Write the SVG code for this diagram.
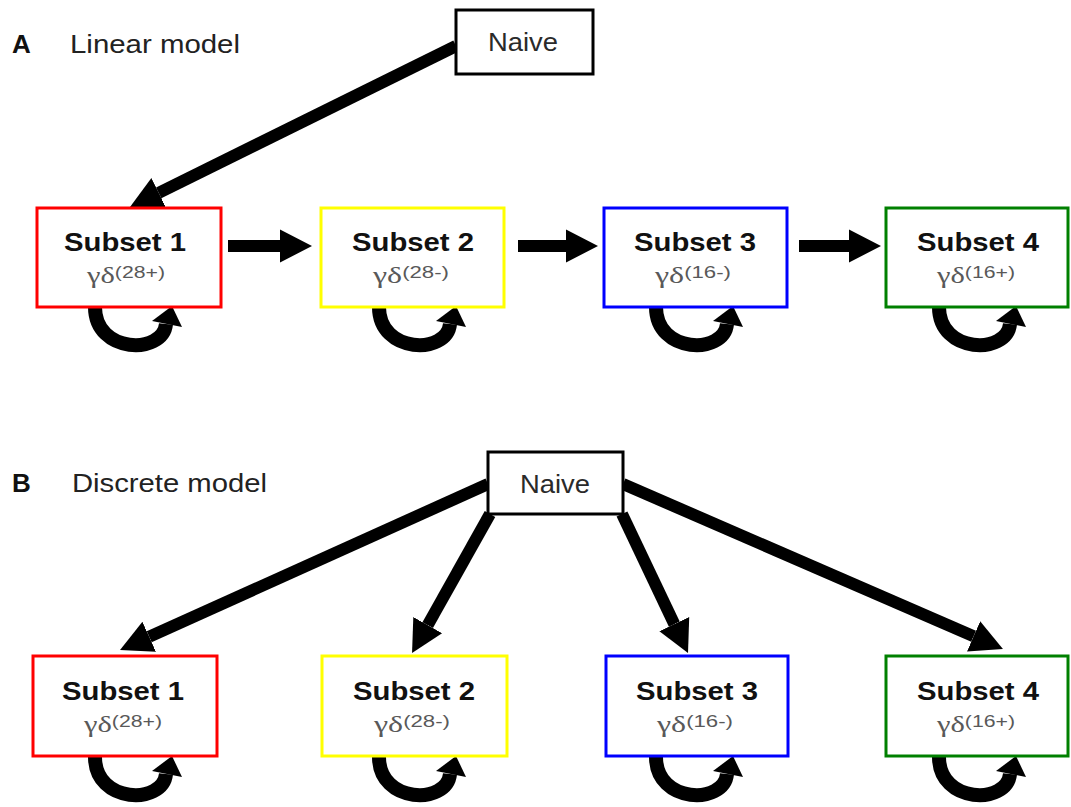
<svg xmlns="http://www.w3.org/2000/svg" width="1071" height="807" viewBox="0 0 1071 807">
  <style>
    .panel { font-family: "Liberation Sans", Arial, sans-serif; font-size: 26px; fill: #222; }
    .panel-letter { font-weight: bold; fill: #111; }
    .box { fill: #fff; stroke-width: 3; }
    .naive { fill: #fff; stroke: #000; stroke-width: 3; }
    .naive-label { font-family: "Liberation Sans", Arial, sans-serif; font-size: 26px; fill: #2a2a2a; text-anchor: middle; }
    .title { font-family: "Liberation Sans", Arial, sans-serif; font-size: 25px; font-weight: bold; fill: #111; text-anchor: middle; }
    .sub { font-family: "Liberation Sans", Arial, sans-serif; font-size: 16px; fill: #595959; text-anchor: middle; }
    .greek { font-family: "Liberation Serif", "Times New Roman", serif; font-size: 23px; }
    .red { stroke: #ff0000; }
    .yellow { stroke: #ffff00; }
    .blue { stroke: #0000ff; }
    .green { stroke: #008000; }
    .edge { stroke: #000; stroke-width: 12; fill: none; marker-end: url(#head); }
    .loop-arc { stroke: #000; stroke-width: 14; fill: none; }
    .loop-head { fill: #000; }
  </style>
  <defs>
    <marker id="head" markerUnits="userSpaceOnUse" viewBox="0 -20 40 40" markerWidth="40" markerHeight="40" refX="0" refY="0" orient="auto">
      <path d="M0,-16.5 L32,0 L0,16.5 z" fill="#000"/>
    </marker>
    <!-- self-renewal loop, origin at its top centre -->
    <g id="loop">
      <path class="loop-arc" d="M-34,0 C-34,47 34,48 37,17"/>
      <polygon class="loop-head" points="43,-1 23,14 53,20"/>
    </g>
  </defs>

  <rect width="1071" height="807" fill="#fff"/>

  <!-- panel headings -->
  <text class="panel panel-letter" x="12" y="53">A</text>
  <text class="panel" x="70" y="53" textLength="170" lengthAdjust="spacingAndGlyphs">Linear model</text>
  <text class="panel panel-letter" x="12" y="492">B</text>
  <text class="panel" x="72" y="492" textLength="195" lengthAdjust="spacingAndGlyphs">Discrete model</text>

  <!-- connectors -->
  <g id="connectors">
    <line class="edge" x1="456" y1="46" x2="158.7" y2="192.8"/>
    <line class="edge" x1="228" y1="246" x2="280" y2="246"/>
    <line class="edge" x1="518" y1="246" x2="566" y2="246"/>
    <line class="edge" x1="799" y1="246" x2="849" y2="246"/>

    <line class="edge" x1="488" y1="484" x2="149.2" y2="636.8"/>
    <line class="edge" x1="490" y1="514" x2="427.7" y2="625.1"/>
    <line class="edge" x1="622" y1="514" x2="674.3" y2="624.1"/>
    <line class="edge" x1="623" y1="484" x2="973.6" y2="636.3"/>

    <use href="#loop" transform="translate(129,307)"/>
    <use href="#loop" transform="translate(413,307)"/>
    <use href="#loop" transform="translate(690,307)"/>
    <use href="#loop" transform="translate(973,307)"/>

    <use href="#loop" transform="translate(129,757)"/>
    <use href="#loop" transform="translate(413,757)"/>
    <use href="#loop" transform="translate(690,757)"/>
    <use href="#loop" transform="translate(973,757)"/>
  </g>

  <!-- linear model nodes -->
  <g id="naive-a">
    <rect class="naive" x="456" y="10" width="137" height="64"/>
    <text class="naive-label" x="523" y="51" textLength="70" lengthAdjust="spacingAndGlyphs">Naive</text>
  </g>
  <g id="a-subset1">
    <rect class="box red" x="37" y="208" width="184" height="99"/>
    <text class="title" x="125" y="251" textLength="122" lengthAdjust="spacingAndGlyphs">Subset 1</text>
    <text class="sub" x="126" y="283" textLength="78" lengthAdjust="spacingAndGlyphs"><tspan class="greek">γδ</tspan><tspan dy="-5">(28+)</tspan></text>
  </g>
  <g id="a-subset2">
    <rect class="box yellow" x="321" y="208" width="183" height="99"/>
    <text class="title" x="413" y="251" textLength="122" lengthAdjust="spacingAndGlyphs">Subset 2</text>
    <text class="sub" x="411" y="283" textLength="76" lengthAdjust="spacingAndGlyphs"><tspan class="greek">γδ</tspan><tspan dy="-5">(28-)</tspan></text>
  </g>
  <g id="a-subset3">
    <rect class="box blue" x="604" y="208" width="183" height="99"/>
    <text class="title" x="695" y="251" textLength="122" lengthAdjust="spacingAndGlyphs">Subset 3</text>
    <text class="sub" x="693" y="283" textLength="76" lengthAdjust="spacingAndGlyphs"><tspan class="greek">γδ</tspan><tspan dy="-5">(16-)</tspan></text>
  </g>
  <g id="a-subset4">
    <rect class="box green" x="886" y="208" width="182" height="99"/>
    <text class="title" x="978" y="251" textLength="122" lengthAdjust="spacingAndGlyphs">Subset 4</text>
    <text class="sub" x="976" y="283" textLength="78" lengthAdjust="spacingAndGlyphs"><tspan class="greek">γδ</tspan><tspan dy="-5">(16+)</tspan></text>
  </g>

  <!-- discrete model nodes -->
  <g id="naive-b">
    <rect class="naive" x="488" y="452" width="135" height="62"/>
    <text class="naive-label" x="555" y="493" textLength="70" lengthAdjust="spacingAndGlyphs">Naive</text>
  </g>
  <g id="b-subset1">
    <rect class="box red" x="33" y="656" width="184" height="100"/>
    <text class="title" x="123" y="700" textLength="122" lengthAdjust="spacingAndGlyphs">Subset 1</text>
    <text class="sub" x="123" y="732" textLength="78" lengthAdjust="spacingAndGlyphs"><tspan class="greek">γδ</tspan><tspan dy="-5">(28+)</tspan></text>
  </g>
  <g id="b-subset2">
    <rect class="box yellow" x="322" y="656" width="185" height="100"/>
    <text class="title" x="414" y="700" textLength="122" lengthAdjust="spacingAndGlyphs">Subset 2</text>
    <text class="sub" x="412" y="732" textLength="76" lengthAdjust="spacingAndGlyphs"><tspan class="greek">γδ</tspan><tspan dy="-5">(28-)</tspan></text>
  </g>
  <g id="b-subset3">
    <rect class="box blue" x="606" y="656" width="182" height="100"/>
    <text class="title" x="697" y="700" textLength="122" lengthAdjust="spacingAndGlyphs">Subset 3</text>
    <text class="sub" x="695" y="732" textLength="76" lengthAdjust="spacingAndGlyphs"><tspan class="greek">γδ</tspan><tspan dy="-5">(16-)</tspan></text>
  </g>
  <g id="b-subset4">
    <rect class="box green" x="886" y="656" width="182" height="100"/>
    <text class="title" x="978" y="700" textLength="122" lengthAdjust="spacingAndGlyphs">Subset 4</text>
    <text class="sub" x="976" y="732" textLength="78" lengthAdjust="spacingAndGlyphs"><tspan class="greek">γδ</tspan><tspan dy="-5">(16+)</tspan></text>
  </g>
</svg>
